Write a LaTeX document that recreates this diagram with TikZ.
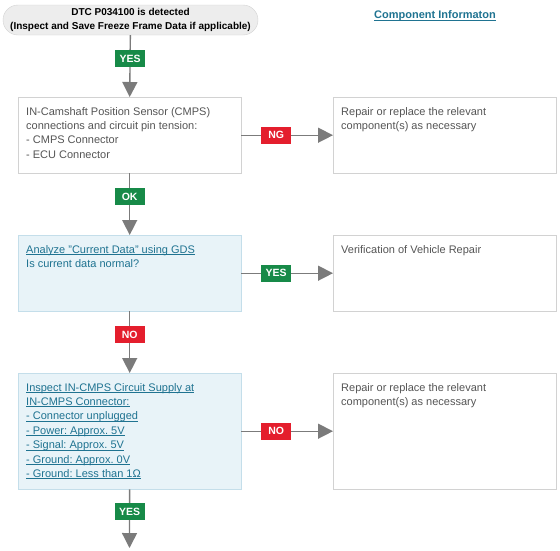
\documentclass[tikz,border=0pt]{standalone}
\usepackage{fontspec}
\setmainfont{Liberation Sans}
\usepackage{tikz}
\usetikzlibrary{positioning}
\usetikzlibrary{arrows.meta}
\definecolor{flowgray}{HTML}{7B7B7B}
\definecolor{boxgray}{HTML}{D2D2D2}
\definecolor{bodygray}{HTML}{555555}
\definecolor{linkteal}{HTML}{1F7391}
\definecolor{askblue}{HTML}{E8F3F8}
\definecolor{askline}{HTML}{C4DEEA}
\definecolor{okgreen}{HTML}{178A48}
\definecolor{ngred}{HTML}{E41E2D}
\newcommand{\lnk}[1]{\setbox0\hbox{#1}\rlap{\rule[-1.6pt]{\wd0}{0.7pt}}\box0}
\frenchspacing

\begin{document}
\begin{tikzpicture}[x=1pt,y=-1pt]
      \tikzstyle{every node}=[font=\fontsize{11}{14.4}\selectfont]
      \tikzstyle{plainbox}=[draw=boxgray, fill=white, anchor=north west, inner sep=0pt, minimum width=223, minimum height=76]
      \tikzstyle{askbox}=[plainbox, draw=askline, fill=askblue]
      \tikzstyle{bodytext}=[anchor=north west, inner sep=0pt, align=left, text=bodygray]
      \tikzstyle{linktext}=[bodytext, text=linkteal]
      \tikzstyle{flow}=[draw=flowgray, line width=1.4pt, -{Triangle[width=15pt,length=15pt]}]
      \tikzstyle{tag}=[font=\bfseries\fontsize{10.5}{12}\selectfont, text=white, inner sep=0pt, minimum width=30, minimum height=17, pos=0.38]
      \tikzstyle{yes}=[tag, fill=okgreen]
      \tikzstyle{ng}=[tag, fill=ngred]
      \useasboundingbox (0,0) rectangle (560,550);
      \node[draw=boxgray, fill=black!7, rounded corners=15, minimum width=255, minimum height=30, inner sep=0pt, align=center,
        font=\bfseries\fontsize{10}{14}\selectfont] (start) at (130.5,20)
        {DTC P034100 is detected\\(Inspect and Save Freeze Frame Data if applicable)};
      \node[font=\bfseries\fontsize{11}{13}\selectfont, text=linkteal] (info) at (435,16) {\lnk{Component Informaton}};
      \node[plainbox] (cmps) at (18,97) {};
      \node[bodytext] (cmpst) at ([xshift=8,yshift=-10]cmps.north west)
        {IN-Camshaft Position Sensor (CMPS)\\connections and circuit pin tension:\\- CMPS Connector\\- ECU Connector};
      \node[plainbox] (fix1) at (333,97) {};
      \node[bodytext] (fix1t) at ([xshift=8,yshift=-10]fix1.north west)
        {Repair or replace the relevant\\component(s) as necessary};
      \node[askbox] (data) at (18,235) {};
      \node[linktext] (datat) at ([xshift=8,yshift=-10]data.north west)
        {\lnk{Analyze "Current Data" using GDS}\\Is current data normal?};
      \node[plainbox] (verify) at (333,235) {};
      \node[bodytext] (verifyt) at ([xshift=8,yshift=-10]verify.north west)
        {Verification of Vehicle Repair};
      \node[askbox, minimum height=116] (supply) at (18,373) {};
      \node[linktext] (supplyt) at ([xshift=8,yshift=-10]supply.north west)
        {\lnk{Inspect IN-CMPS Circuit Supply at}\\\lnk{IN-CMPS Connector:}\\\lnk{- Connector unplugged}\\
         \lnk{- Power: Approx. 5V}\\\lnk{- Signal: Approx. 5V}\\\lnk{- Ground: Approx. 0V}\\\lnk{- Ground: Less than 1Ω}};
      \node[plainbox, minimum height=116] (fix2) at (333,373) {};
      \node[bodytext] (fix2t) at ([xshift=8,yshift=-10]fix2.north west)
        {Repair or replace the relevant\\component(s) as necessary};
      \coordinate (next) at (129.5,548);
      \draw[flow] (start) -- node[yes] (yes1) {YES} (cmps.north);
      \draw[flow] (cmps) -- node[ng] (ng1) {NG} (fix1);
      \draw[flow] (cmps) -- node[yes] (ok1) {OK} (data);
      \draw[flow] (data) -- node[yes] (yes2) {YES} (verify);
      \draw[flow] (data) -- node[ng] (no1) {NO} (supply);
      \draw[flow] (supply) -- node[ng] (no2) {NO} (fix2);
      \draw[flow] (supply) -- node[yes] (yes3) {YES} (next);
    \end{tikzpicture}
\end{document}
